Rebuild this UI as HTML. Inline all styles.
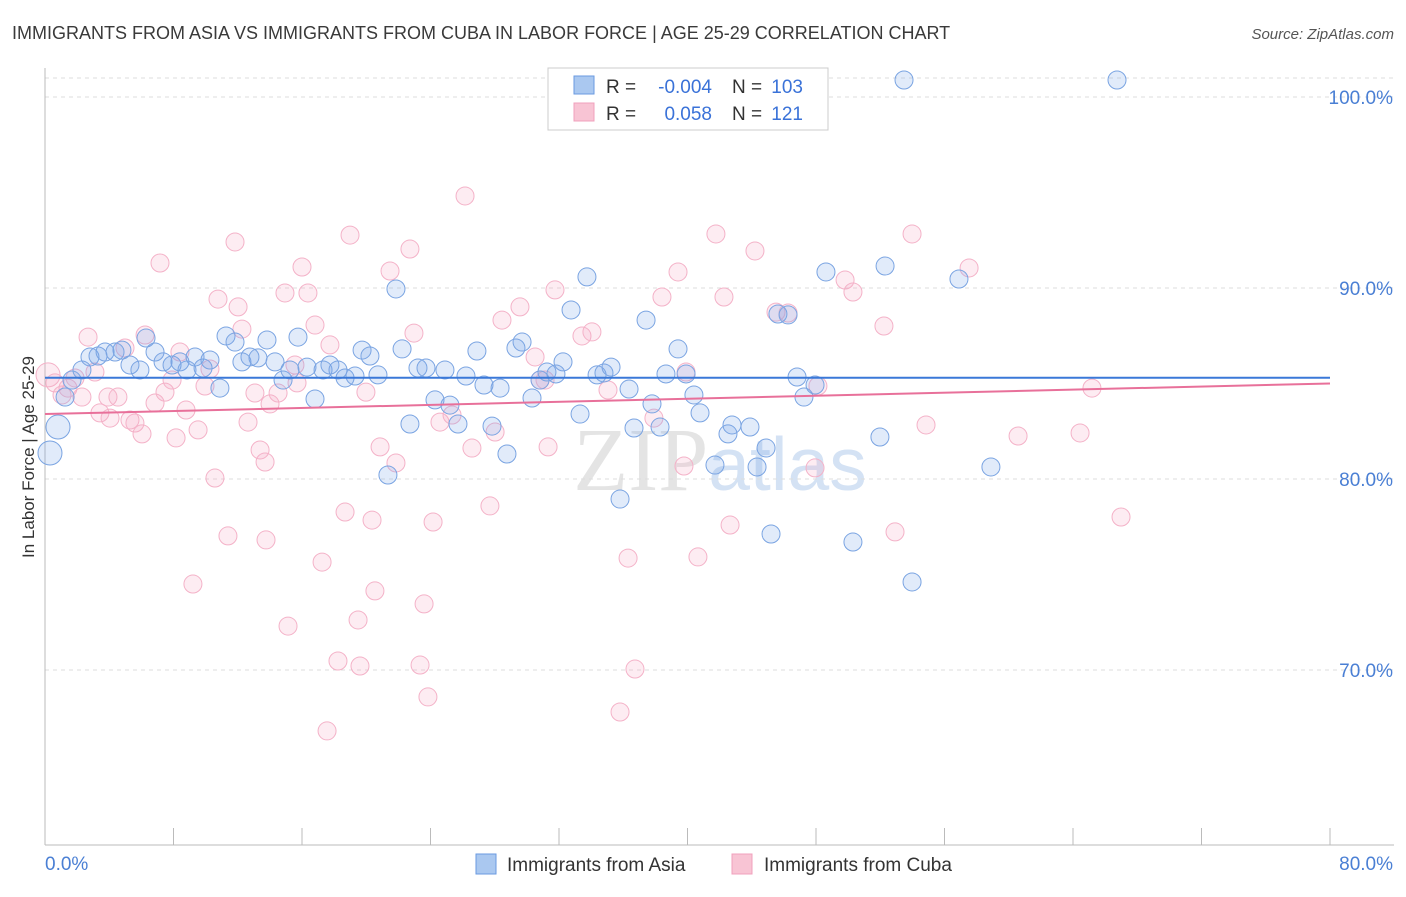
<!DOCTYPE html>
<html><head><meta charset="utf-8"><style>
body{margin:0;background:#fff;font-family:"Liberation Sans",sans-serif;}
</style></head><body>
<svg id="chart" width="1406" height="892" xmlns="http://www.w3.org/2000/svg" font-family="Liberation Sans, sans-serif">
<text x="12" y="39" font-size="18" fill="#3a3a3a">IMMIGRANTS FROM ASIA VS IMMIGRANTS FROM CUBA IN LABOR FORCE | AGE 25-29 CORRELATION CHART</text>
<text x="1394" y="39" font-size="15" font-style="italic" fill="#555" text-anchor="end">Source: ZipAtlas.com</text>
<text x="720" y="490" font-size="90" fill="#e4e4e4" text-anchor="middle" font-family="Liberation Serif, serif">ZIP<tspan fill="#d4e2f4" font-family="Liberation Sans, sans-serif" font-size="75">atlas</tspan></text>
<g id="grid"></g><g id="axes"></g><g id="pts"></g><g id="lines"></g>
<text transform="translate(34,457) rotate(-90)" font-size="17" fill="#333" text-anchor="middle">In Labor Force | Age 25-29</text>
<g>
<rect x="548" y="68" width="280" height="62" fill="#fff" stroke="#ccc"/>
<rect x="574" y="76" width="20" height="18" fill="#aac8f0" stroke="#6a9ae0"/>
<rect x="574" y="103" width="20" height="18" fill="#f8c4d4" stroke="#f0a0bc"/>
<text x="606" y="93" font-size="19" fill="#333">R =</text>
<text x="712" y="93" font-size="19" fill="#3a72d8" text-anchor="end">-0.004</text>
<text x="732" y="93" font-size="19" fill="#333">N =</text>
<text x="803" y="93" font-size="19" fill="#3a72d8" text-anchor="end">103</text>
<text x="606" y="120" font-size="19" fill="#333">R =</text>
<text x="712" y="120" font-size="19" fill="#3a72d8" text-anchor="end">0.058</text>
<text x="732" y="120" font-size="19" fill="#333">N =</text>
<text x="803" y="120" font-size="19" fill="#3a72d8" text-anchor="end">121</text>
</g>
<g><rect x="476" y="854" width="20" height="20" fill="#aac8f0" stroke="#6a9ae0"/><text x="507" y="871" font-size="19" fill="#333">Immigrants from Asia</text></g>
<g><rect x="732" y="854" width="20" height="20" fill="#f8c4d4" stroke="#f0a0bc"/><text x="764" y="871" font-size="19" fill="#333">Immigrants from Cuba</text></g>
</svg>
<script>
const yTicks=[100,90,80,70];
const yTickLabels=["100.0%","90.0%","80.0%","70.0%"];
const xTicks=[0,8,16,24,32,40,48,56,64,72,80];
const xEndLabels=["0.0%","80.0%"];
const asiaPx=[[50,453],[58,427],[65,397],[72,380],[82,370],[90,357],[98,356],[105,352],[115,352],[122,350],[130,365],[140,370],[146,338],[155,352],[163,362],[172,365],[180,362],[187,370],[195,357],[203,368],[210,360],[220,388],[226,336],[235,342],[242,362],[250,357],[258,358],[267,340],[275,362],[283,380],[290,370],[298,337],[307,367],[315,399],[323,370],[330,365],[338,370],[345,378],[355,376],[362,350],[370,356],[378,375],[388,475],[396,289],[402,349],[410,424],[418,368],[426,368],[435,400],[445,370],[450,405],[458,424],[466,376],[477,351],[484,385],[492,426],[500,388],[507,454],[516,348],[522,342],[532,398],[540,380],[547,372],[556,374],[563,362],[571,310],[580,414],[587,277],[597,375],[604,373],[611,367],[620,499],[629,389],[634,428],[646,320],[652,404],[660,427],[666,374],[678,349],[686,374],[694,395],[700,413],[715,465],[728,434],[732,425],[750,427],[757,467],[766,448],[771,534],[778,314],[788,315],[797,377],[804,397],[815,385],[826,272],[853,542],[880,437],[885,266],[904,80],[912,582],[959,279],[991,467],[1117,80]];
const cubaPx=[[48,375],[55,383],[62,395],[68,388],[75,378],[82,397],[88,337],[95,372],[100,413],[108,397],[110,418],[118,397],[125,348],[130,420],[135,423],[142,434],[145,335],[155,403],[160,263],[165,392],[172,380],[176,438],[180,352],[186,410],[193,584],[198,430],[205,386],[210,369],[215,478],[218,299],[228,536],[235,242],[238,307],[242,329],[248,422],[255,393],[260,450],[265,462],[266,540],[270,404],[278,393],[285,293],[288,626],[295,365],[297,383],[302,267],[308,293],[315,325],[322,562],[330,345],[338,661],[345,512],[350,235],[358,620],[360,666],[366,392],[372,520],[375,591],[380,447],[390,271],[396,463],[410,249],[414,333],[420,665],[424,604],[428,697],[433,522],[440,422],[452,415],[465,196],[472,448],[490,506],[495,432],[502,320],[520,307],[535,357],[540,380],[545,380],[555,290],[582,336],[592,332],[608,390],[620,712],[628,558],[635,669],[654,418],[662,297],[678,272],[684,466],[686,372],[698,557],[716,234],[724,297],[730,525],[755,251],[776,312],[788,313],[815,468],[818,386],[845,280],[853,292],[884,326],[895,532],[912,234],[926,425],[969,268],[1018,436],[1080,433],[1092,388],[1121,517],[327,731],[548,447]];
const asiaX=asiaPx.map(p=>+((p[0]-45)/16.0625).toFixed(2));
const asiaY=asiaPx.map(p=>+(100-(p[1]-97)/19.1).toFixed(2));
const cubaX=cubaPx.map(p=>+((p[0]-45)/16.0625).toFixed(2));
const cubaY=cubaPx.map(p=>+(100-(p[1]-97)/19.1).toFixed(2));
const asiaTrend=[85.3,85.3];
const cubaTrend=[83.4,85.0];
const X=v=>45+v*16.0625, Y=v=>97+(100-v)*19.1;
const NS="http://www.w3.org/2000/svg";
function mk(t,a,p){const e=document.createElementNS(NS,t);for(const k in a)e.setAttribute(k,a[k]);p.appendChild(e);return e;}
const grid=document.getElementById('grid'),axes=document.getElementById('axes'),pts=document.getElementById('pts'),lines=document.getElementById('lines');
let g0=mk('line',{x1:45,x2:1394,y1:78,y2:78,stroke:'#ddd','stroke-dasharray':'4,4'},grid);


yTicks.forEach((t,i)=>{
 const l=mk('line',{x1:45,x2:1394,y1:Y(t),y2:Y(t),stroke:'#ddd','stroke-dasharray':'4,4'},grid);
 
 
 const tx=mk('text',{x:1393,y:Y(t)+7,'font-size':19,fill:'#4a7fd4','text-anchor':'end'},axes);
 tx.textContent=yTickLabels[i];
 
 
});
const xa=mk('line',{x1:45,x2:1394,y1:845,y2:845,stroke:'#bbb'},axes);


const ya=mk('line',{x1:45,x2:45,y1:68,y2:845,stroke:'#bbb'},axes);


xTicks.forEach(t=>{const l=mk('line',{x1:X(t),x2:X(t),y1:828,y2:845,stroke:'#bbb'},axes);
 
 });
const xl0=mk('text',{x:45,y:870,'font-size':19,fill:'#4a7fd4'},axes);xl0.textContent=xEndLabels[0];


const xl1=mk('text',{x:1393,y:870,'font-size':19,fill:'#4a7fd4','text-anchor':'end'},axes);xl1.textContent=xEndLabels[1];


function dots(xs,ys,fill,stroke,name){xs.forEach((x,i)=>{
 const r=(i<2&&name==='asia-point')||(i<1)?12:9;
 const c=mk('circle',{cx:X(x),cy:Y(ys[i]),r:r,fill:fill,stroke:stroke,'stroke-width':1},pts);
 
 });}
dots(cubaX,cubaY,'rgba(244,170,196,0.22)','#f4b2c8','cuba-point');
dots(asiaX,asiaY,'rgba(120,165,230,0.22)','#7aa4e2','asia-point');
const la=mk('line',{x1:X(0),x2:X(80),y1:Y(asiaTrend[0]),y2:Y(asiaTrend[1]),stroke:'#3a78d8','stroke-width':2},lines);


const lc=mk('line',{x1:X(0),x2:X(80),y1:Y(cubaTrend[0]),y2:Y(cubaTrend[1]),stroke:'#e8709a','stroke-width':2},lines);


</script>
</body></html>
